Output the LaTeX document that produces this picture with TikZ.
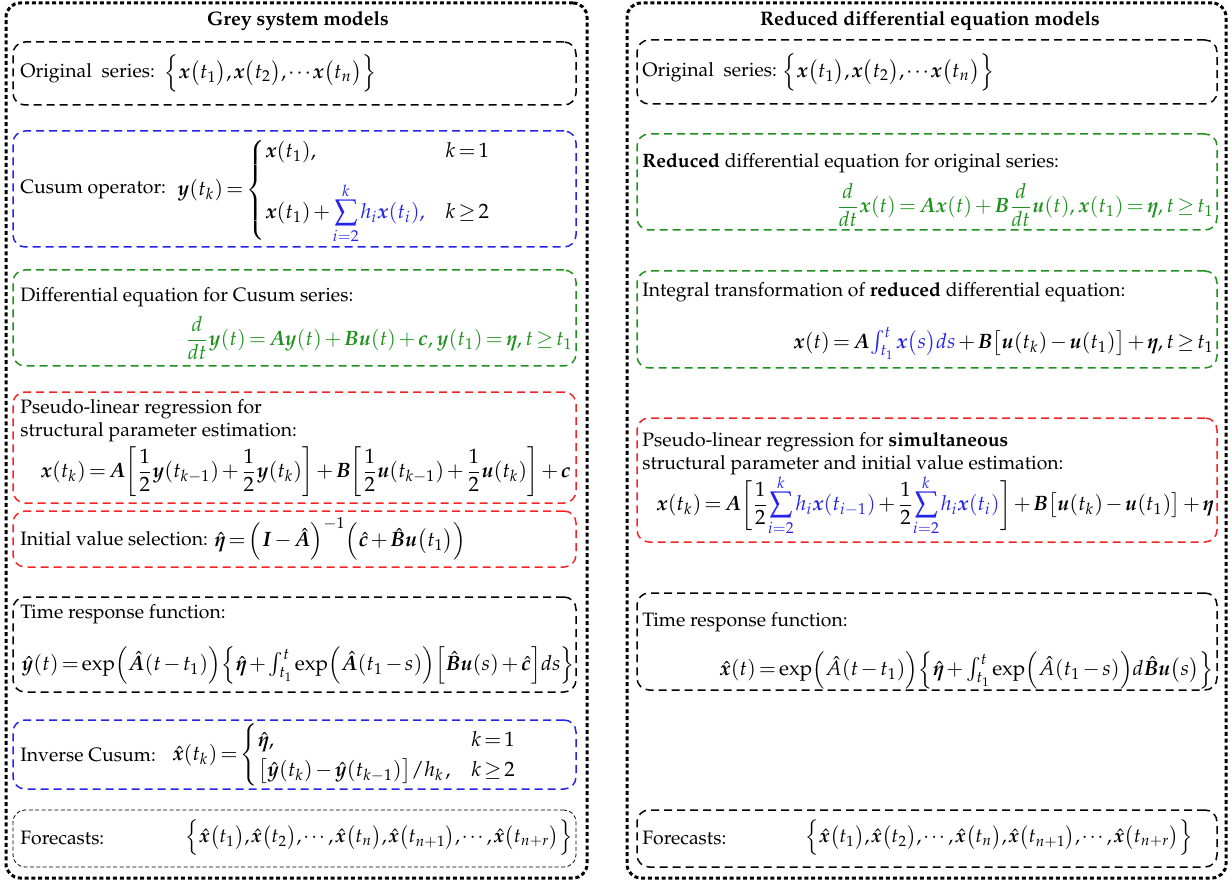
\documentclass[tikz,border=0pt]{standalone}
\usepackage[T1]{fontenc}
\usepackage{mathpazo}
\usepackage{amsmath}
\usepackage{bm}
\usepackage{tikz}
\usetikzlibrary{positioning,fit}
\definecolor{cblue}{RGB}{35,35,235}
\definecolor{cgreen}{RGB}{30,145,30}
\definecolor{cred}{RGB}{245,35,35}
\newcommand{\tightmath}{\thickmuskip=2.5mu plus 1mu\medmuskip=2mu plus 1mu\thinmuskip=1.5mu}

\begin{document}
\begin{tikzpicture}[
  x=0.5pt, y=-0.5pt,
  font=\fontsize{9.7}{11.6}\selectfont,
  panel/.style={draw, line width=1.5pt, dash pattern=on 2pt off 1.4pt,
                rounded corners=7pt, inner sep=0pt},
  eqbox/.style={draw, line width=0.75pt, dash pattern=on 4pt off 2.5pt,
                rounded corners=6pt, inner sep=0pt},
  thinbox/.style={eqbox, line width=0.4pt, dash pattern=on 2pt off 1.2pt},
  ttl/.style={font=\fontsize{9.8}{11.6}\selectfont\bfseries, inner sep=0pt},
  lbl/.style={anchor=west, align=left, inner sep=0pt},
  eq/.style={inner sep=0pt, font=\fontsize{10.4}{12.5}\selectfont\tightmath},
  foreq/.style={eq, anchor=west, font=\fontsize{9.9}{12}\selectfont\tightmath},
]
\useasboundingbox (0,0) rectangle (1232,882);
\node[panel, fit={(6,3) (587,878)}] (gsm) {};
\node[panel, fit={(627,3) (1226,878)}] (rdm) {};
\node[ttl] (gsmttl) at (298,21) {Grey system models};
\node[ttl] (rdmttl) at (930,21) {Reduced differential equation models};

\node[eqbox, fit={(13,42) (576,105)}] (gorig) {};
\node[eqbox, draw=cblue, fit={(13,131) (576,247)}] (gcusum) {};
\node[eqbox, draw=cgreen, fit={(13,270) (576,366)}] (gdiff) {};
\node[eqbox, draw=cred, fit={(13,392) (576,503)}] (gpseudo) {};
\node[eqbox, draw=cred, fit={(13,511) (576,567)}] (ginit) {};
\node[eqbox, fit={(13,597) (576,692)}] (gtime) {};
\node[eqbox, draw=cblue, fit={(13,720) (576,789)}] (ginv) {};
\node[thinbox, fit={(13,810) (576,867)}] (gfore) {};

\node[eqbox, fit={(637,40) (1217,104)}] (rorig) {};
\node[eqbox, draw=cgreen, fit={(637,134) (1217,230)}] (rdiff) {};
\node[eqbox, draw=cgreen, fit={(637,271) (1217,368)}] (rint) {};
\node[eqbox, draw=cred, fit={(637,418) (1217,542)}] (rpseudo) {};
\node[eqbox, fit={(637,593) (1217,690)}] (rtime) {};
\node[eqbox, fit={(637,810) (1217,867)}] (rfore) {};

\node[lbl] (gorigl) at (20,73) {Original\ \ series:};
\node[eq, anchor=west] (gorigf) at (164,73)
  {$\Bigl\{\bm{x}\bigl(t_1\bigr),\bm{x}\bigl(t_2\bigr),\cdots\bm{x}\bigl(t_n\bigr)\Bigr\}$};
\node[lbl] (gcusuml) at (20,190) {Cusum operator:};
\node[eq, anchor=west] (gcusumf) at (177,190)
  {$\bm{y}(t_k)=\begin{cases}\bm{x}(t_1), & k=1\\[8pt]
   \bm{x}(t_1)+{\color{cblue}\displaystyle\sum_{i=2}^{k}h_i\bm{x}(t_i),} & k\geq 2\end{cases}$};
\node[lbl] (gdiffl) at (20,297) {Differential equation for Cusum series:};
\node[eq, anchor=east, text=cgreen] (gdifff) at (573,338)
  {$\dfrac{d}{dt}\bm{y}(t)=\bm{A}\bm{y}(t)+\bm{B}\bm{u}(t)+\bm{c},\,\bm{y}(t_1)=\bm{\eta},\,t\geq t_1$};
\node[lbl] (gpseudol) at (20,421) {Pseudo-linear regression for\\structural parameter estimation:};
\node[eq, anchor=east] (gpseudof) at (571,472)
  {$\bm{x}(t_k)=\bm{A}\biggl[\dfrac{1}{2}\bm{y}(t_{k-1})+\dfrac{1}{2}\bm{y}(t_k)\biggr]
   +\bm{B}\biggl[\dfrac{1}{2}\bm{u}(t_{k-1})+\dfrac{1}{2}\bm{u}(t_k)\biggr]+\bm{c}$};
\node[lbl] (ginitl) at (20,539) {Initial value selection:};
\node[eq, anchor=west] (ginitf) at (214,539)
  {$\hat{\bm{\eta}}=\Bigl(\bm{I}-\hat{\bm{A}}\Bigr)^{-1}\Bigl(\hat{\bm{c}}+\hat{\bm{B}}\bm{u}\bigl(t_1\bigr)\Bigr)$};
\node[lbl] (gtimel) at (20,614) {Time response function:};
\node[eq, anchor=west] (gtimef) at (21,665)
  {$\hat{\bm{y}}(t)=\exp\Bigl(\hat{\bm{A}}(t-t_1)\Bigr)\Bigl\{\hat{\bm{\eta}}+\int_{t_1}^{t}\exp\Bigl(\hat{\bm{A}}(t_1-s)\Bigr)\Bigl[\hat{\bm{B}}\bm{u}(s)+\hat{\bm{c}}\Bigr]ds\Bigr\}$};
\node[lbl] (ginvl) at (20,755) {Inverse Cusum:};
\node[eq, anchor=west] (ginvf) at (172,755)
  {$\hat{\bm{x}}(t_k)=\begin{cases}\hat{\bm{\eta}}, & k=1\\
   \bigl[\hat{\bm{y}}(t_k)-\hat{\bm{y}}(t_{k-1})\bigr]/h_k\,, & k\geq 2\end{cases}$};
\node[lbl] (gforel) at (20,838) {Forecasts:};
\node[foreq] (gforef) at (185,838)
  {$\Bigl\{\hat{\bm{x}}\bigl(t_1\bigr),\hat{\bm{x}}\bigl(t_2\bigr),\cdots,\hat{\bm{x}}\bigl(t_n\bigr),\hat{\bm{x}}\bigl(t_{n+1}\bigr),\cdots,\hat{\bm{x}}\bigl(t_{n+r}\bigr)\Bigr\}$};

\node[lbl] (rorigl) at (642,72) {Original\ \ series:};
\node[eq, anchor=west] (rorigf) at (782,72)
  {$\Bigl\{\bm{x}\bigl(t_1\bigr),\bm{x}\bigl(t_2\bigr),\cdots\bm{x}\bigl(t_n\bigr)\Bigr\}$};
\node[lbl] (rdiffl) at (642,163) {\textbf{Reduced} differential equation for original series:};
\node[eq, anchor=east, text=cgreen] (rdifff) at (1214,205)
  {$\dfrac{d}{dt}\bm{x}(t)=\bm{A}\bm{x}(t)+\bm{B}\dfrac{d}{dt}\bm{u}(t),\,\bm{x}(t_1)=\bm{\eta},\,t\geq t_1$};
\node[lbl] (rintl) at (642,292) {Integral transformation of \textbf{reduced} differential equation:};
\node[eq, anchor=east] (rintf) at (1214,343)
  {$\bm{x}(t)=\bm{A}{\color{cblue}\int_{t_1}^{t}\bm{x}\bigl(s\bigr)ds}+\bm{B}\bigl[\bm{u}(t_k)-\bm{u}(t_1)\bigr]+\bm{\eta},\,t\geq t_1$};
\node[lbl] (rpseudol) at (642,454)
  {Pseudo-linear regression for \textbf{simultaneous}\\structural parameter and initial value estimation:};
\node[eq, anchor=east] (rpseudof) at (1214,505)
  {$\bm{x}(t_k)=\bm{A}\biggl[\dfrac{1}{2}{\color{cblue}\displaystyle\sum_{i=2}^{k}h_i\bm{x}(t_{i-1})}+\dfrac{1}{2}{\color{cblue}\displaystyle\sum_{i=2}^{k}h_i\bm{x}(t_i)}\biggr]
   +\bm{B}\bigl[\bm{u}(t_k)-\bm{u}(t_1)\bigr]+\bm{\eta}$};
\node[lbl] (rtimel) at (642,622) {Time response function:};
\node[eq, anchor=east] (rtimef) at (1214,670)
  {$\hat{\bm{x}}(t)=\exp\Bigl(\hat{A}(t-t_1)\Bigr)\Bigl\{\hat{\bm{\eta}}+\int_{t_1}^{t}\exp\Bigl(\hat{A}(t_1-s)\Bigr)d\hat{\bm{B}}\bm{u}\bigl(s\bigr)\Bigr\}$};
\node[lbl] (rforel) at (642,838) {Forecasts:};
\node[foreq] (rforef) at (805,838)
  {$\Bigl\{\hat{\bm{x}}\bigl(t_1\bigr),\hat{\bm{x}}\bigl(t_2\bigr),\cdots,\hat{\bm{x}}\bigl(t_n\bigr),\hat{\bm{x}}\bigl(t_{n+1}\bigr),\cdots,\hat{\bm{x}}\bigl(t_{n+r}\bigr)\Bigr\}$};
\end{tikzpicture}
\end{document}
